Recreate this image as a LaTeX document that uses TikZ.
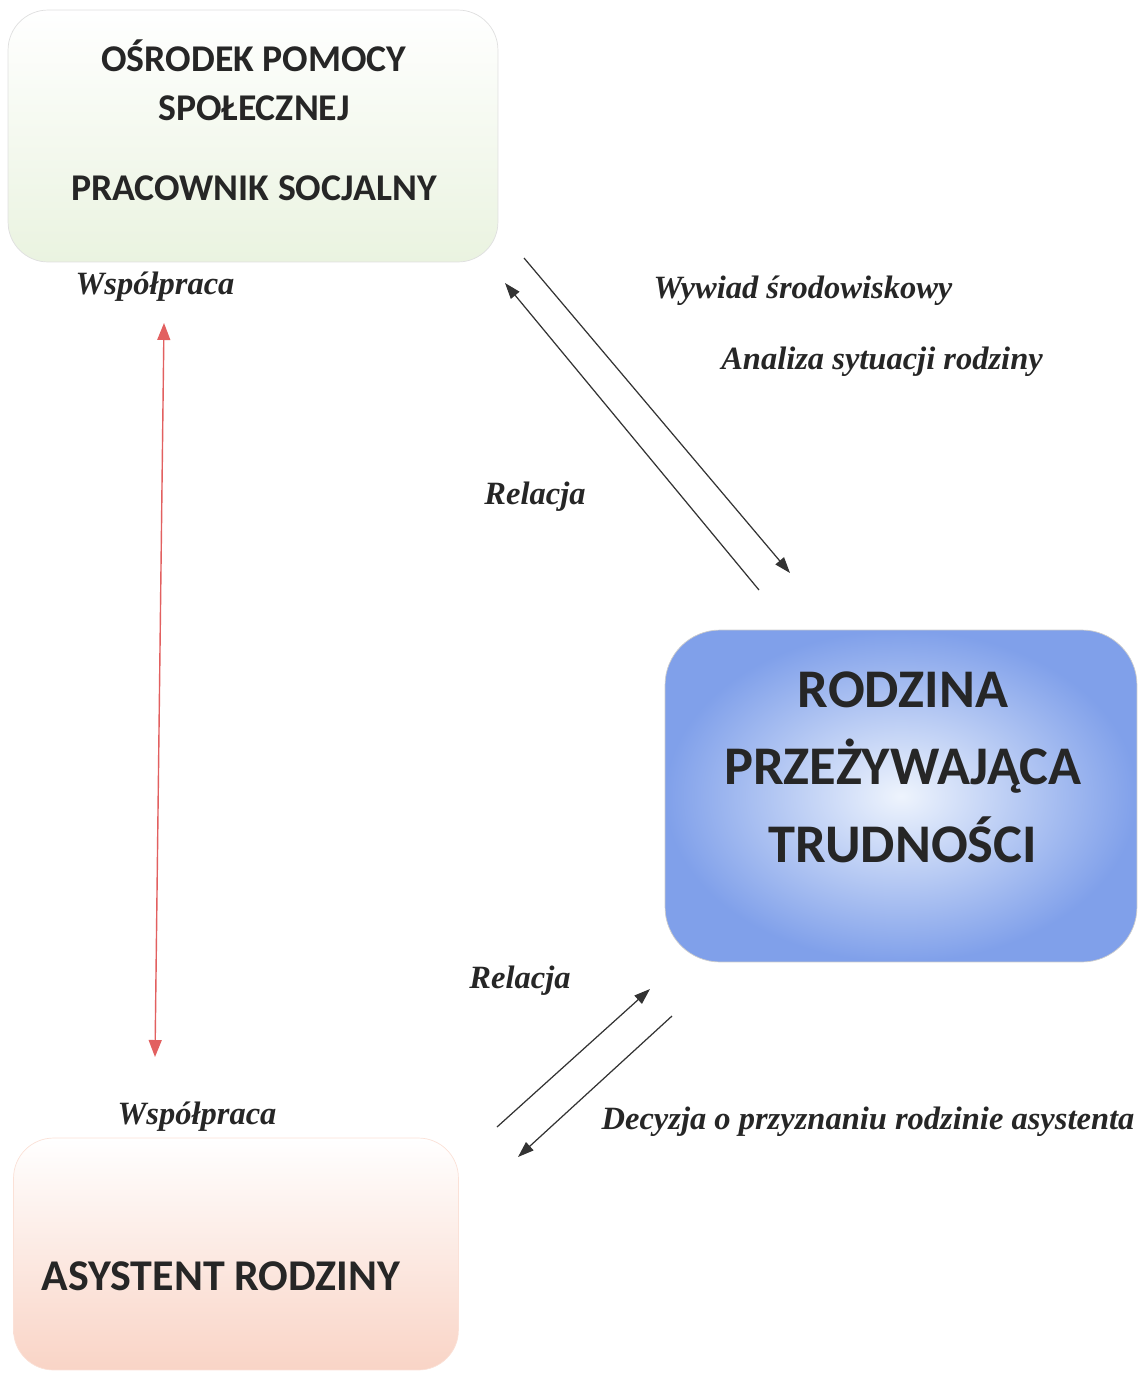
\documentclass[tikz,border=0pt]{standalone}
\usepackage{fontspec}
\setmainfont{Liberation Serif}
\newfontfamily\boxfont{Carlito}
\usetikzlibrary{arrows.meta}

\definecolor{opsgreen}{RGB}{234,243,224}
\definecolor{famblue}{RGB}{128,160,234}
\definecolor{famlight}{RGB}{238,244,253}
\definecolor{asyspeach}{RGB}{249,212,198}
\definecolor{coopred}{RGB}{226,96,96}

\begin{document}
\begin{tikzpicture}[x=0.02cm, y=0.02cm,
  box/.style={inner sep=0pt},
  boxtext/.style={font=\boxfont\bfseries\fontsize{21.5}{25}\selectfont, text=black!85},
  bigtext/.style={font=\boxfont\bfseries\fontsize{31}{36}\selectfont, text=black!85},
  lbl/.style={font=\bfseries\itshape\fontsize{18.5}{22}\selectfont, text=black!85},
  link/.style={draw=black!80, line width=0.7pt, -{Triangle[length=0.32cm,width=0.22cm]}}]
\useasboundingbox (0,0) rectangle (1139,-1373);
\node[box, rounded corners=0.8cm, minimum width=9.8cm, minimum height=5.04cm, top color=white, bottom color=opsgreen, draw=gray!25] (ops) at (253,-136) {};
\node[boxtext] (ops1) at (254,-56) {OŚRODEK POMOCY};
\node[boxtext] (ops2) at (254,-108) {SPOŁECZNEJ};
\node[boxtext] (ops3) at (254,-188) {PRACOWNIK SOCJALNY};
\node[box, rounded corners=1.1cm, minimum width=9.44cm, minimum height=6.64cm, shading=radial, inner color=famlight, outer color=famblue, draw=gray!40] (fam) at (901,-796) {};
\node[bigtext] (fam1) at (903,-690) {RODZINA};
\node[bigtext] (fam2) at (903,-766) {PRZEŻYWAJĄCA};
\node[bigtext] (fam3) at (903,-840) {TRUDNOŚCI};
\node[box, rounded corners=0.8cm, minimum width=8.9cm, minimum height=4.64cm, top color=white, bottom color=asyspeach, draw=asyspeach!70] (asys) at (236,-1254) {};
\node[boxtext, font=\boxfont\bfseries\fontsize{25}{29}\selectfont] (asys1) at (221,-1276) {ASYSTENT RODZINY};
\node[lbl] (coop1) at (155,-287) {Współpraca};
\node[lbl] (coop2) at (197,-1117) {Współpraca};
\node[lbl] (wyw) at (803,-291) {Wywiad środowiskowy};
\node[lbl] (anal) at (882,-362) {Analiza sytuacji rodziny};
\node[lbl] (rel1) at (535,-497) {Relacja};
\node[lbl] (rel2) at (520,-981) {Relacja};
\node[lbl] (dec) at (868,-1122) {Decyzja o przyznaniu rodzinie asystenta};
\coordinate (t1s) at (524,-258);
\coordinate (t1e) at (790,-573);
\coordinate (t2s) at (759,-590);
\coordinate (t2e) at (505,-283);
\coordinate (b1s) at (497,-1127);
\coordinate (b1e) at (650,-989);
\coordinate (b2s) at (672,-1016);
\coordinate (b2e) at (518,-1157);
\coordinate (r1) at (164,-323);
\coordinate (r2) at (155,-1057);
\draw [link] (t1s) -- (t1e);
\draw [link] (t2s) -- (t2e);
\draw [link] (b1s) -- (b1e);
\draw [link] (b2s) -- (b2e);
\draw [coopred, line width=0.8pt, {Triangle[length=0.34cm,width=0.26cm]}-{Triangle[length=0.34cm,width=0.26cm]}] (r1) -- (r2);
\end{tikzpicture}
\end{document}
